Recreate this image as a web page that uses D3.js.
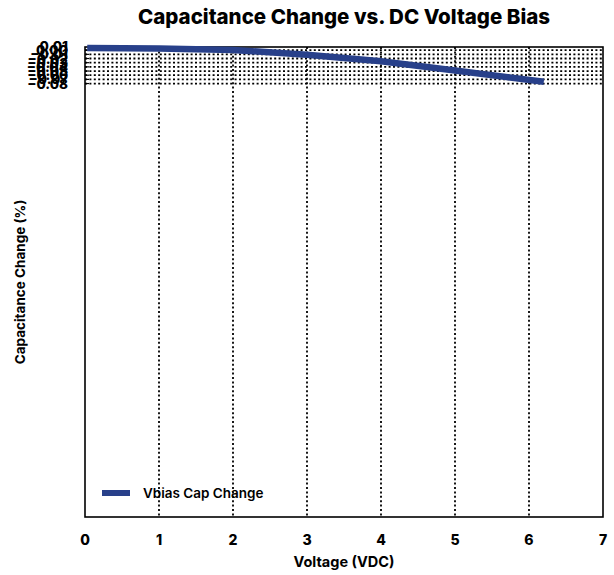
<!DOCTYPE html>
<html>
<head>
<meta charset="utf-8">
<script src="https://cdn.jsdelivr.net/npm/d3@7"></script>
<style>
  body { margin: 0; background: #fff; }
  text { font-family: Inter, "Open Sans", sans-serif; fill: #000; }
</style>
</head>
<body>
<svg id="chart" width="614" height="575"></svg>
<script>
// data
const voltage = [0.03, 1, 2, 3, 4, 5, 6.2]
const capChange = [0.0052, 0.0038, 0.0004, -0.0109, -0.0267, -0.0488, -0.0756]
const xTicks = [0, 1, 2, 3, 4, 5, 6, 7]
const yTicks = [0.01, 0, -0.01, -0.02, -0.03, -0.04, -0.05, -0.06, -0.07, -0.08]

const svg = d3.select('#chart')
const m = { left: 85, right: 603, top: 47, bottom: 517 }

const x = d3.scaleLinear().domain([0, 7]).range([m.left, m.right])
const y = d3.scaleLinear().domain([-1.119, 0.0076]).range([m.bottom, m.top])

// grid
svg.append('g').selectAll('line').data(yTicks.slice(1)).join('line')
  .attr('x1', m.left).attr('x2', m.right)
  .attr('y1', d => y(d)).attr('y2', d => y(d))
  .attr('stroke', '#000').attr('stroke-width', 1.8)
  .attr('stroke-dasharray', '2,2.4')
svg.append('g').selectAll('line').data(xTicks.slice(1, -1)).join('line')
  .attr('y1', m.top).attr('y2', m.bottom)
  .attr('x1', d => x(d)).attr('x2', d => x(d))
  .attr('stroke', '#000').attr('stroke-width', 1.8)
  .attr('stroke-dasharray', '2,2.4')

// frame
svg.append('rect')
  .attr('x', m.left).attr('y', m.top)
  .attr('width', m.right - m.left).attr('height', m.bottom - m.top)
  .attr('fill', 'none').attr('stroke', '#000').attr('stroke-width', 1.6)

// y ticks
const yAxis = svg.append('g')
yAxis.selectAll('line').data(yTicks.slice(1)).join('line')
  .attr('x1', m.left).attr('x2', m.left + 4)
  .attr('y1', d => y(d)).attr('y2', d => y(d))
  .attr('stroke', '#000').attr('stroke-width', 1.2)
yAxis.selectAll('text').data(yTicks).join('text')
  .attr('x', 68).attr('y', d => y(d) + 5)
  .attr('text-anchor', 'end')
  .style('font-size', '13.5px').style('font-weight', 800)
  .text(d => d3.format('.2f')(d))

// x ticks
svg.append('g').selectAll('text').data(xTicks).join('text')
  .attr('x', d => x(d)).attr('y', 545)
  .attr('text-anchor', 'middle')
  .style('font-size', '14px').style('font-weight', 800)
  .text(d => d)

// series
const line = d3.line().x((d, i) => x(voltage[i])).y(d => y(d))
svg.append('path')
  .datum(capChange)
  .attr('d', line)
  .attr('fill', 'none')
  .attr('stroke', '#28408a')
  .attr('stroke-width', 6.5)

// legend
svg.append('line')
  .attr('x1', 102).attr('x2', 130).attr('y1', 493).attr('y2', 493)
  .attr('stroke', '#28408a').attr('stroke-width', 6)
svg.append('text')
  .attr('x', 143).attr('y', 498)
  .style('font-size', '13.5px').style('font-weight', 600)
  .text('Vbias Cap Change')

// titles
svg.append('text')
  .attr('x', (m.left + m.right) / 2).attr('y', 24)
  .attr('text-anchor', 'middle')
  .style('font-size', '20.5px').style('font-weight', 800)
  .text('Capacitance Change vs. DC Voltage Bias')
svg.append('text')
  .attr('x', (m.left + m.right) / 2).attr('y', 567)
  .attr('text-anchor', 'middle')
  .style('font-size', '14.5px').style('font-weight', 700)
  .text('Voltage (VDC)')
svg.append('text')
  .attr('transform', `translate(25,${(m.top + m.bottom) / 2}) rotate(-90)`)
  .attr('text-anchor', 'middle')
  .style('font-size', '13.5px').style('font-weight', 700)
  .text('Capacitance Change (%)')
</script>
</body>
</html>
